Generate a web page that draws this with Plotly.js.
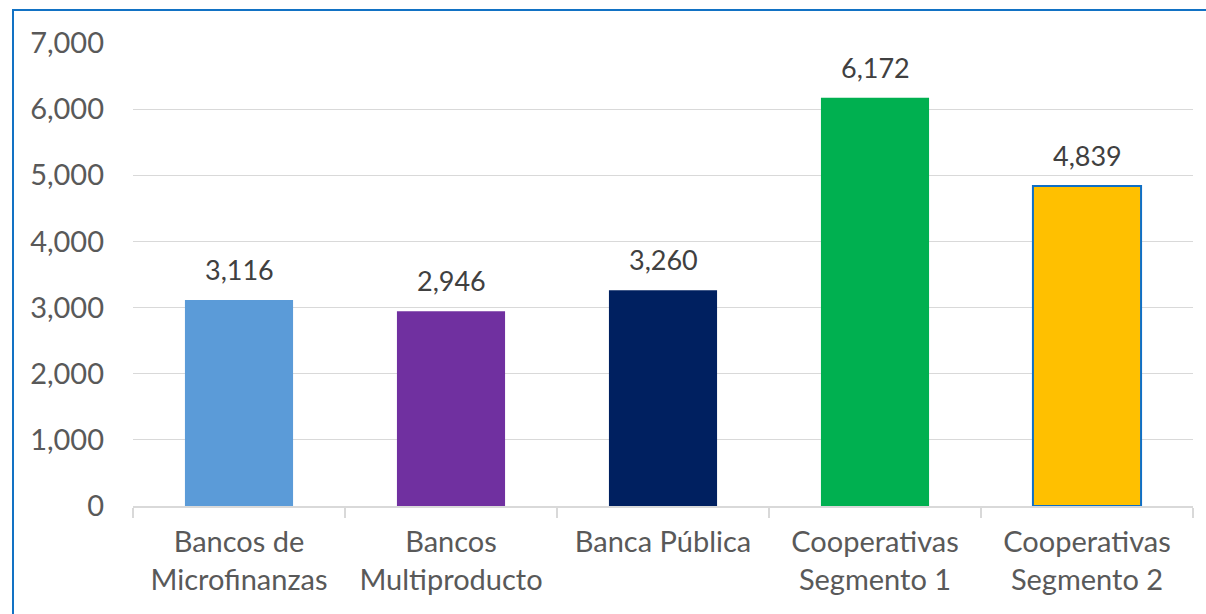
<!DOCTYPE html>
<html><head><meta charset="utf-8">
<script src="https://cdn.plot.ly/plotly-3.0.1.min.js"></script>
<style>html,body{margin:0;padding:0;background:#fff}#c{width:1206px;height:614px;position:relative}
#b{position:absolute;left:12px;top:9px;right:-5px;bottom:-5px;border-left:2px solid #1272C4;border-top:2px solid #1272C4;pointer-events:none}</style>
</head><body><div id="c"></div><div id="b"></div>
<script>
const categories = ["Bancos de<br>Microfinanzas", "Bancos<br>Multiproducto", "Banca Pública", "Cooperativas<br>Segmento 1", "Cooperativas<br>Segmento 2"];
const values = [3116, 2946, 3260, 6172, 4839];
const labels = ["3,116", "2,946", "3,260", "6,172", "4,839"];
const colors = ["#5B9BD8", "#7030A0", "#002060", "#00B050", "#FFC000"];
const outlineColors = ["rgba(0,0,0,0)", "rgba(0,0,0,0)", "rgba(0,0,0,0)", "rgba(0,0,0,0)", "#0F6FC6"];
const outlineWidths = [0, 0, 0, 0, 2];
const yTicks = [0, 1000, 2000, 3000, 4000, 5000, 6000, 7000];
const yTickText = ["0", "1,000", "2,000", "3,000", "4,000", "5,000", "6,000", "7,000"];

const font = "Lato, 'Open Sans', sans-serif";
const annotations = categories.map((c, i) => ({
  x: c, y: values[i], xref: "x", yref: "y", text: labels[i], showarrow: false,
  yanchor: "bottom", yshift: 12, font: {family: font, size: 27, color: "#404040"}
}));
Plotly.newPlot("c", [{
  type: "bar", x: categories, y: values,
  marker: {color: colors, line: {color: outlineColors, width: outlineWidths}},
  hoverinfo: "none"
}], {
  width: 1206, height: 614,
  margin: {l: 133, r: 13, t: 43, b: 108},
  paper_bgcolor: "#fff", plot_bgcolor: "#fff",
  bargap: 0.49, showlegend: false,
  annotations: annotations,
  font: {family: font, size: 27, color: "#595959"},
  xaxis: {type: "category", tickson: "boundaries", ticks: "outside", ticklen: 10, tickcolor: "#D9D9D9", tickwidth: 1.5,
          showline: true, linecolor: "#D9D9D9", linewidth: 1.5, showgrid: false, ticklabelstandoff: 10,
          tickfont: {family: font, size: 29, color: "#595959"}},
  yaxis: {range: [0, 7000], tickvals: yTicks, ticktext: yTickText, showgrid: true, gridcolor: "#D9D9D9", gridwidth: 1,
          zeroline: false, showline: false, ticks: "", ticklabelstandoff: 28,
          tickfont: {family: font, size: 29, color: "#595959"}}
}, {staticPlot: true});
</script></body></html>
